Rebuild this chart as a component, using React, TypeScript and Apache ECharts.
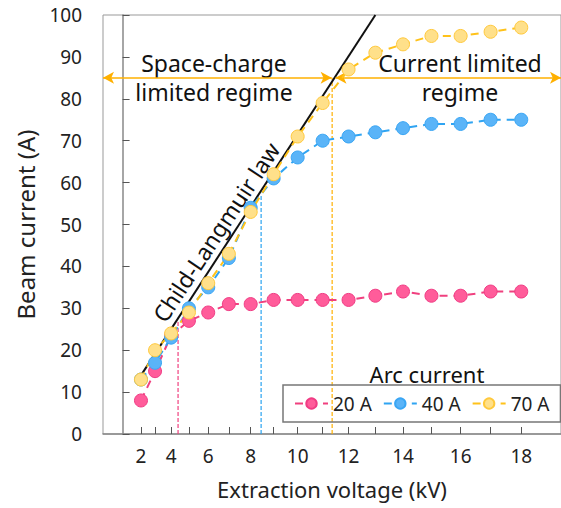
import React, { useEffect, useRef } from "react";
import * as echarts from "echarts";

// ---- data ----
const voltages = [2, 3, 4, 5, 6, 7, 8, 9, 10, 11, 12, 13, 14, 15, 16, 17, 18];
const arc20 = [8, 15, 23.5, 27, 29, 31, 31, 32, 32, 32, 32, 33, 34, 33, 33, 34, 34];
const arc40 = [13, 17, 23, 30, 35, 42, 54, 61, 66, 70, 71, 72, 73, 74, 74, 75, 75];
const arc70 = [13, 20, 24, 29, 36, 43, 53, 62, 71, 79, 87, 91, 93, 95, 95, 96, 97];
const clVoltages = [2, 13];
const clCurrents = [14, 100];
const guideVoltages = [4.4, 8.46, 11.37];
const guideTops = [27, 57, 85];
const arrowCurrent = 85;
const arrowSplit = [11.35, 11.5];
const tickVoltages = [2, 3, 4, 5, 6, 7, 8, 9, 10, 11, 12, 13, 14, 15, 16, 17, 18];
const labelVoltages = [2, 4, 6, 8, 10, 12, 14, 16, 18];
const seriesNames = ["20 A", "40 A", "70 A"];

// x axis of the original is drawn on a V^1.4 scale
const POW = 1.4;
const tx = (v: number) => Math.pow(v, POW);
const itx = (t: number) => Math.pow(t, 1 / POW);
const X_MIN = -2.81;
const X_MAX = 62.9;

const FONT = "Noto Sans";

const pink = { line: "#f0407f", fill: "#ff5c9a", border: "#f03c84" };
const blue = { line: "#2fa4f2", fill: "#5ab4f8", border: "#3aa6f4" };
const yellow = { line: "#ffc21a", fill: "#ffe08a", border: "#ffc93c" };
const guideColors = [pink.line, "#29a3f0", "#ffb000"];

function dataSeries(name: string, vals: number[], c: any) {
  return {
    name,
    type: "line",
    data: voltages.map((v, i) => [tx(v), vals[i]]),
    symbol: "circle",
    symbolSize: 13,
    lineStyle: { color: c.line, width: 2, type: [8, 6] },
    itemStyle: { color: c.fill, borderColor: c.border, borderWidth: 1 },
    z: 5,
  };
}

export default function App() {
  const ref = useRef<HTMLDivElement>(null);
  useEffect(() => {
    const chart = echarts.init(ref.current!, null, { renderer: "svg" });
    const guides = guideVoltages.map((v, i) => ({
      type: "line",
      data: [
        [tx(v), 0],
        [tx(v), guideTops[i]],
      ],
      symbol: "none",
      silent: true,
      lineStyle: { color: guideColors[i], width: 1.2, type: [4, 2] },
      z: 3,
    }));
    const option: any = {
      animation: false,
      textStyle: { fontFamily: FONT },
      grid: {
        left: 103,
        right: -1,
        top: 15,
        bottom: 74,
        show: true,
        borderColor: "#999",
        borderWidth: 1,
      },
      xAxis: {
        type: "value",
        min: X_MIN,
        max: X_MAX,
        name: "Extraction voltage (kV)",
        nameLocation: "middle",
        nameGap: 44,
        nameTextStyle: { fontSize: 22, color: "#222", fontFamily: FONT },
        axisLine: { lineStyle: { color: "#888", width: 1.5 } },
        axisTick: {
          inside: true,
          length: 7,
          customValues: tickVoltages.map(tx),
          lineStyle: { color: "#555" },
        },
        axisLabel: {
          customValues: labelVoltages.map(tx),
          formatter: (t: number) => String(Math.round(itx(t))),
          fontSize: 19,
          color: "#222",
          margin: 12,
          fontFamily: FONT,
        },
        splitLine: { show: false },
      },
      yAxis: {
        type: "value",
        min: 0,
        max: 100,
        interval: 10,
        name: "Beam current (A)",
        nameLocation: "middle",
        nameGap: 66,
        nameTextStyle: { fontSize: 24, color: "#222", fontFamily: FONT },
        axisLine: { show: true, lineStyle: { color: "#888", width: 1.5 } },
        axisTick: { show: true, inside: true, length: 7, lineStyle: { color: "#555" } },
        axisLabel: { fontSize: 19, color: "#222", margin: 21, fontFamily: FONT },
        splitLine: { show: false },
      },
      legend: {
        data: seriesNames,
        left: 283,
        top: 385,
        width: 270,
        padding: [9, 11, 9, 11],
        itemWidth: 33,
        itemHeight: 13,
        itemGap: 11,
        borderColor: "#777",
        borderWidth: 1.5,
        textStyle: { fontSize: 19, color: "#222", fontFamily: FONT },
      },
      series: [
        {
          type: "line",
          data: clVoltages.map((v, i) => [tx(v), clCurrents[i]]),
          symbol: "none",
          silent: true,
          lineStyle: { color: "#111", width: 2 },
          z: 4,
        },
        ...guides,
        {
          type: "line",
          data: [],
          silent: true,
          markLine: {
            silent: true,
            symbol: ["arrow", "arrow"],
            symbolSize: [9, 11],
            label: { show: false },
            lineStyle: { color: "#ffb000", width: 1.5, type: "solid" },
            data: [
              [
                { coord: [X_MIN, arrowCurrent] },
                { coord: [tx(arrowSplit[0]), arrowCurrent] },
              ],
              [
                { coord: [tx(arrowSplit[1]), arrowCurrent] },
                { coord: [X_MAX, arrowCurrent] },
              ],
            ],
          },
          z: 3,
        },
        dataSeries(seriesNames[0], arc20, pink),
        dataSeries(seriesNames[1], arc40, blue),
        dataSeries(seriesNames[2], arc70, yellow),
      ],
      graphic: [
        {
          type: "text",
          x: 214,
          y: 77,
          style: {
            text: "Space-charge\nlimited regime",
            font: `23px "${FONT}"`,
            fill: "#111",
            align: "center",
            verticalAlign: "middle",
            lineHeight: 29,
          },
        },
        {
          type: "text",
          x: 460,
          y: 77,
          style: {
            text: "Current limited\nregime",
            font: `23px "${FONT}"`,
            fill: "#111",
            align: "center",
            verticalAlign: "middle",
            lineHeight: 29,
          },
        },
        {
          type: "text",
          x: 216,
          y: 232,
          rotation: (56.5 * Math.PI) / 180,
          style: {
            text: "Child-Langmuir law",
            font: `23px "${FONT}"`,
            fill: "#111",
            align: "center",
            verticalAlign: "middle",
          },
        },
        {
          type: "text",
          x: 427,
          y: 374,
          style: {
            text: "Arc current",
            font: `22px "${FONT}"`,
            fill: "#111",
            align: "center",
            verticalAlign: "middle",
          },
        },
      ],
    };
    chart.setOption(option);
    return () => chart.dispose();
  }, []);
  return (
    <div
      ref={ref}
      style={{ position: "fixed", left: 0, top: 0, width: 561, height: 508, background: "#fff" }}
    />
  );
}
